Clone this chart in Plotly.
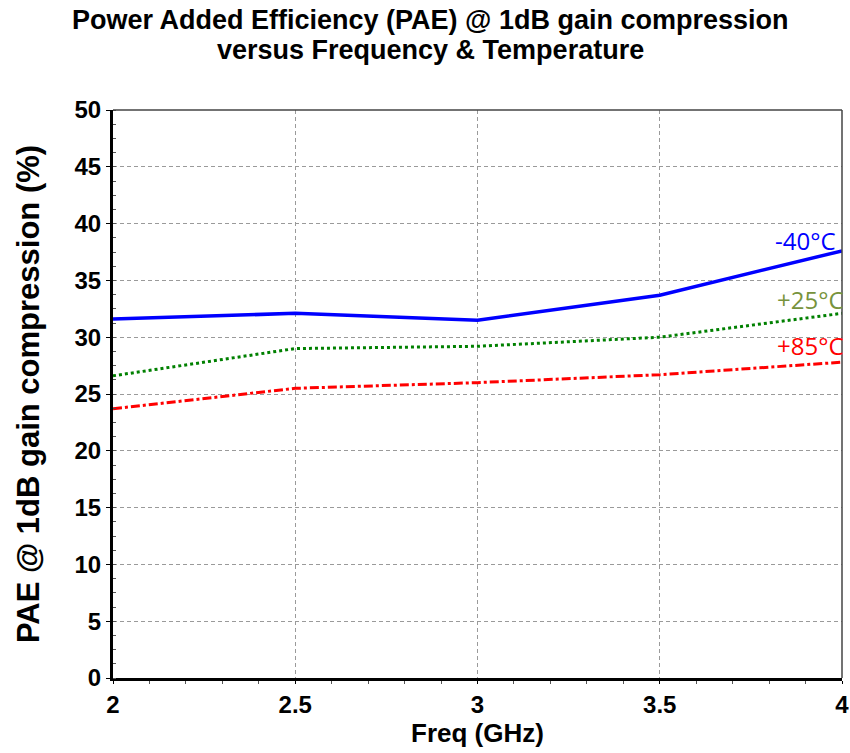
import plotly.graph_objects as go

freq = [2.0, 2.5, 3.0, 3.5, 4.0]
pae_m40 = [31.6, 32.1, 31.5, 33.7, 37.6]
pae_p25 = [26.6, 29.0, 29.2, 30.0, 32.1]
pae_p85 = [23.7, 25.5, 26.0, 26.7, 27.8]

labels = ["-40°C", "+25°C", "+85°C"]
label_y = [38.5, 33.3, 29.3]
label_xshift = [-4, 4, 4]
label_colors = ["#0000FF", "#77933C", "#FF0000"]

title_lines = ["Power Added Efficiency (PAE) @ 1dB gain compression",
               "versus Frequency & Temperature"]

FONT = "Liberation Sans"

fig = go.Figure()
fig.add_trace(go.Scatter(x=freq, y=pae_m40, mode="lines",
                         line=dict(color="#0000FF", width=3.5, dash="solid"), name="-40°C"))
fig.add_trace(go.Scatter(x=freq, y=pae_p25, mode="lines",
                         line=dict(color="#008000", width=3, dash="dot"), name="+25°C"))
fig.add_trace(go.Scatter(x=freq, y=pae_p85, mode="lines",
                         line=dict(color="#FF0000", width=3, dash="dashdot"), name="+85°C"))

for t, yv, xs, c in zip(labels, label_y, label_xshift, label_colors):
    fig.add_annotation(x=4.0, y=yv, xref="x", yref="y", text=t, showarrow=False,
                       xanchor="right", yanchor="middle", xshift=xs,
                       font=dict(family="Open Sans", size=24, color=c))

for line, ys in zip(title_lines, [90, 60]):
    fig.add_annotation(x=0.435, y=1, xref="paper", yref="paper", text="<b>" + line + "</b>",
                       showarrow=False, xanchor="center", yanchor="middle", yshift=ys,
                       font=dict(family=FONT, size=27, color="black"))

fig.update_layout(
    width=850, height=753,
    margin=dict(l=113, r=8, t=110, b=75),
    paper_bgcolor="white", plot_bgcolor="white",
    showlegend=False,
)
fig.update_xaxes(range=[2, 4], dtick=0.5, tick0=2, automargin=False,
                 showgrid=True, gridcolor="#9a9a9a", griddash="4px,3px", gridwidth=1,
                 showline=True, linecolor="black", linewidth=3, mirror=False,
                 ticks="outside", ticklen=3, tickcolor="black",
                 minor=dict(dtick=0.1, ticks="outside", ticklen=3, tickcolor="#555", showgrid=False),
                 tickfont=dict(family=FONT, size=24, color="black", weight="bold"),
                 title=dict(text="<b>Freq (GHz)</b>", standoff=8,
                            font=dict(family=FONT, size=26, color="black")),
                 zeroline=False)
fig.update_yaxes(range=[0, 50], dtick=5, automargin=False,
                 showgrid=True, gridcolor="#9a9a9a", griddash="4px,3px", gridwidth=1,
                 showline=True, linecolor="black", linewidth=3,
                 ticks="outside", ticklen=4, tickcolor="black",
                 minor=dict(dtick=1.25, ticks="inside", ticklen=3, tickcolor="#555", showgrid=False),
                 tickfont=dict(family=FONT, size=24, color="black", weight="bold"),
                 title=dict(text="<b>PAE @ 1dB gain compression (%)</b>", standoff=26,
                            font=dict(family=FONT, size=31, color="black")),
                 zeroline=False)

# thin frame on top and right
fig.add_shape(type="line", xref="paper", yref="paper", x0=0, x1=1, y0=1, y1=1,
              line=dict(color="#444", width=1.5))
fig.add_shape(type="line", xref="paper", yref="paper", x0=1, x1=1, y0=0, y1=1,
              line=dict(color="#444", width=1.5))

fig.write_html("out.html")
